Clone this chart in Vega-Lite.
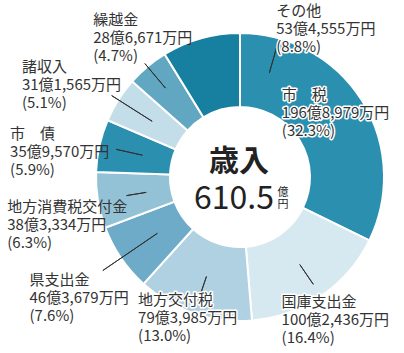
{
  "$schema": "https://vega.github.io/schema/vega-lite/v6.json",
  "width": 328,
  "height": 354,
  "autosize": "none",
  "padding": {"left": 76, "top": 0, "right": 0, "bottom": 0},
  "background": "white",
  "config": {"view": {"stroke": null}, "text": {"font": "Noto Sans CJK JP"}},
  "data": {"values": [
    {"rank": 1, "name": "市税", "amount": 1968979, "label": ["市　税", "196億8,979万円", "(32.3%)"]},
    {"rank": 2, "name": "国庫支出金", "amount": 1002436, "label": ["国庫支出金", "100億2,436万円", "(16.4%)"]},
    {"rank": 3, "name": "地方交付税", "amount": 793985, "label": ["地方交付税", "79億3,985万円", "(13.0%)"]},
    {"rank": 4, "name": "県支出金", "amount": 463679, "label": ["県支出金", "46億3,679万円", "(7.6%)"]},
    {"rank": 5, "name": "地方消費税交付金", "amount": 383334, "label": ["地方消費税交付金", "38億3,334万円", "(6.3%)"]},
    {"rank": 6, "name": "市債", "amount": 359570, "label": ["市　債", "35億9,570万円", "(5.9%)"]},
    {"rank": 7, "name": "諸収入", "amount": 311565, "label": ["諸収入", "31億1,565万円", "(5.1%)"]},
    {"rank": 8, "name": "繰越金", "amount": 286671, "label": ["繰越金", "28億6,671万円", "(4.7%)"]},
    {"rank": 9, "name": "その他", "amount": 534555, "label": ["その他", "53億4,555万円", "(8.8%)"]}
  ]},
  "layer": [
    {
      "encoding": {
        "theta": {"field": "amount", "type": "quantitative", "stack": true},
        "order": {"field": "rank", "type": "quantitative"},
        "detail": {"field": "name", "type": "nominal"}
      },
      "layer": [
        {
          "mark": {"type": "arc", "innerRadius": 70, "outerRadius": 144, "stroke": "white", "strokeWidth": 2},
          "encoding": {
            "color": {"field": "name", "type": "nominal", "legend": null,
              "scale": {"domain": ["市税", "国庫支出金", "地方交付税", "県支出金", "地方消費税交付金", "市債", "諸収入", "繰越金", "その他"],
                "range": ["#2b8fb0", "#d6e9f1", "#b0d1e1", "#6eabc8", "#93c1d5", "#2b8fb0", "#c3dde9", "#62a7c2", "#177f9f"]}}
          }
        },
        {"mark": {"type": "arc", "innerRadius": 106, "outerRadius": 130, "padAngle": 3, "stroke": "#333", "strokeWidth": 1, "fillOpacity": 0},
         "encoding": {"strokeOpacity": {"condition": {"test": "datum.name === '国庫支出金'", "value": 1}, "value": 0}}},
        {"mark": {"type": "arc", "innerRadius": 105, "outerRadius": 130, "padAngle": 3, "stroke": "#333", "strokeWidth": 1, "fillOpacity": 0},
         "encoding": {"strokeOpacity": {"condition": {"test": "datum.name === '地方交付税'", "value": 1}, "value": 0}}},
        {"mark": {"type": "arc", "innerRadius": 100, "outerRadius": 166, "padAngle": 3, "stroke": "#333", "strokeWidth": 1, "fillOpacity": 0},
         "encoding": {"strokeOpacity": {"condition": {"test": "datum.name === '県支出金'", "value": 1}, "value": 0}}},
        {"mark": {"type": "arc", "innerRadius": 95, "outerRadius": 115, "padAngle": 3, "stroke": "#333", "strokeWidth": 1, "fillOpacity": 0},
         "encoding": {"strokeOpacity": {"condition": {"test": "datum.name === '地方消費税交付金'", "value": 1}, "value": 0}}},
        {"mark": {"type": "arc", "innerRadius": 100, "outerRadius": 127, "padAngle": 3, "stroke": "#333", "strokeWidth": 1, "fillOpacity": 0},
         "encoding": {"strokeOpacity": {"condition": {"test": "datum.name === '市債'", "value": 1}, "value": 0}}},
        {"mark": {"type": "arc", "innerRadius": 104, "outerRadius": 152, "padAngle": 3, "stroke": "#333", "strokeWidth": 1, "fillOpacity": 0},
         "encoding": {"strokeOpacity": {"condition": {"test": "datum.name === '諸収入'", "value": 1}, "value": 0}}},
        {"mark": {"type": "arc", "innerRadius": 116, "outerRadius": 148, "padAngle": 3, "stroke": "#333", "strokeWidth": 1, "fillOpacity": 0},
         "encoding": {"strokeOpacity": {"condition": {"test": "datum.name === '繰越金'", "value": 1}, "value": 0}}},
        {"mark": {"type": "arc", "innerRadius": 108, "outerRadius": 140, "padAngle": 3, "stroke": "#333", "strokeWidth": 1, "fillOpacity": 0},
         "encoding": {
           "order": {"field": "rank", "type": "quantitative", "sort": "descending"},
           "strokeOpacity": {"condition": {"test": "datum.name === 'その他'", "value": 1}, "value": 0}}},

        {"encoding": {"text": {"condition": {"test": "datum.name === '市税'", "field": "label", "type": "nominal"}, "value": ""}},
         "layer": [
          {"mark": {"type": "text", "radius": 100, "dx": -43, "dy": -36, "align": "left", "baseline": "top", "lineHeight": 18, "fontSize": 15, "fill": "white", "stroke": "white", "strokeWidth": 3, "strokeJoin": "round"}},
          {"mark": {"type": "text", "radius": 100, "dx": -43, "dy": -36, "align": "left", "baseline": "top", "lineHeight": 18, "fontSize": 15, "fill": "#333"}}
         ]},
        {"encoding": {"text": {"condition": {"test": "datum.name === '国庫支出金'", "field": "label", "type": "nominal"}, "value": ""}},
         "layer": [
          {"mark": {"type": "text", "radius": 150, "dx": -43, "dy": -6, "align": "left", "baseline": "top", "lineHeight": 18, "fontSize": 15, "fill": "white", "stroke": "white", "strokeWidth": 3, "strokeJoin": "round"}},
          {"mark": {"type": "text", "radius": 150, "dx": -43, "dy": -6, "align": "left", "baseline": "top", "lineHeight": 18, "fontSize": 15, "fill": "#333"}}
         ]},
        {"encoding": {"text": {"condition": {"test": "datum.name === '地方交付税'", "field": "label", "type": "nominal"}, "value": ""}},
         "layer": [
          {"mark": {"type": "text", "radius": 150, "dx": -54, "dy": -26, "align": "left", "baseline": "top", "lineHeight": 18, "fontSize": 15, "fill": "white", "stroke": "white", "strokeWidth": 3, "strokeJoin": "round"}},
          {"mark": {"type": "text", "radius": 150, "dx": -54, "dy": -26, "align": "left", "baseline": "top", "lineHeight": 18, "fontSize": 15, "fill": "#333"}}
         ]},
        {"encoding": {"text": {"condition": {"test": "datum.name === '県支出金'", "field": "label", "type": "nominal"}, "value": ""}},
         "layer": [
          {"mark": {"type": "text", "radius": 170, "dx": -70, "dy": 0, "align": "left", "baseline": "top", "lineHeight": 18, "fontSize": 15, "fill": "#333"}}
         ]},
        {"encoding": {"text": {"condition": {"test": "datum.name === '地方消費税交付金'", "field": "label", "type": "nominal"}, "value": ""}},
         "layer": [
          {"mark": {"type": "text", "radius": 170, "dx": -65, "dy": -4.5, "align": "left", "baseline": "top", "lineHeight": 18, "fontSize": 15, "fill": "#333"}}
         ]},
        {"encoding": {"text": {"condition": {"test": "datum.name === '市債'", "field": "label", "type": "nominal"}, "value": ""}},
         "layer": [
          {"mark": {"type": "text", "radius": 170, "dx": -64, "dy": -13, "align": "left", "baseline": "top", "lineHeight": 18, "fontSize": 15, "fill": "#333"}}
         ]},
        {"encoding": {"text": {"condition": {"test": "datum.name === '諸収入'", "field": "label", "type": "nominal"}, "value": ""}},
         "layer": [
          {"mark": {"type": "text", "radius": 170, "dx": -74.5, "dy": -26, "align": "left", "baseline": "top", "lineHeight": 18, "fontSize": 15, "fill": "#333"}}
         ]},
        {"encoding": {"text": {"condition": {"test": "datum.name === '繰越金'", "field": "label", "type": "nominal"}, "value": ""}},
         "layer": [
          {"mark": {"type": "text", "radius": 160, "dx": -44, "dy": -41, "align": "left", "baseline": "top", "lineHeight": 18, "fontSize": 15, "fill": "#333"}}
         ]},
        {"encoding": {"text": {"condition": {"test": "datum.name === 'その他'", "field": "label", "type": "nominal"}, "value": ""}},
         "layer": [
          {"mark": {"type": "text", "radius": 150, "dx": 77, "dy": -28.5, "align": "left", "baseline": "top", "lineHeight": 18, "fontSize": 15, "fill": "white", "stroke": "white", "strokeWidth": 3, "strokeJoin": "round"}},
          {"mark": {"type": "text", "radius": 150, "dx": 77, "dy": -28.5, "align": "left", "baseline": "top", "lineHeight": 18, "fontSize": 15, "fill": "#333"}}
         ]}
      ]
    },
    {
      "data": {"values": [{"t": "歳入"}]},
      "mark": {"type": "text", "fontSize": 30, "fontWeight": "bold", "fill": "#222", "align": "center", "baseline": "middle", "dx": -1, "dy": -15.5},
      "encoding": {"text": {"field": "t", "type": "nominal"}}
    },
    {
      "data": {"values": [{"t": "610.5"}]},
      "mark": {"type": "text", "fontSize": 32, "fill": "#222", "align": "center", "baseline": "middle", "dx": -6, "dy": 21.5},
      "encoding": {"text": {"field": "t", "type": "nominal"}}
    },
    {
      "data": {"values": [{"t": ["億", "円"]}]},
      "mark": {"type": "text", "fontSize": 11, "fill": "#222", "align": "center", "baseline": "top", "lineHeight": 11.5, "dx": 43, "dy": 10},
      "encoding": {"text": {"field": "t", "type": "nominal"}}
    }
  ]
}
